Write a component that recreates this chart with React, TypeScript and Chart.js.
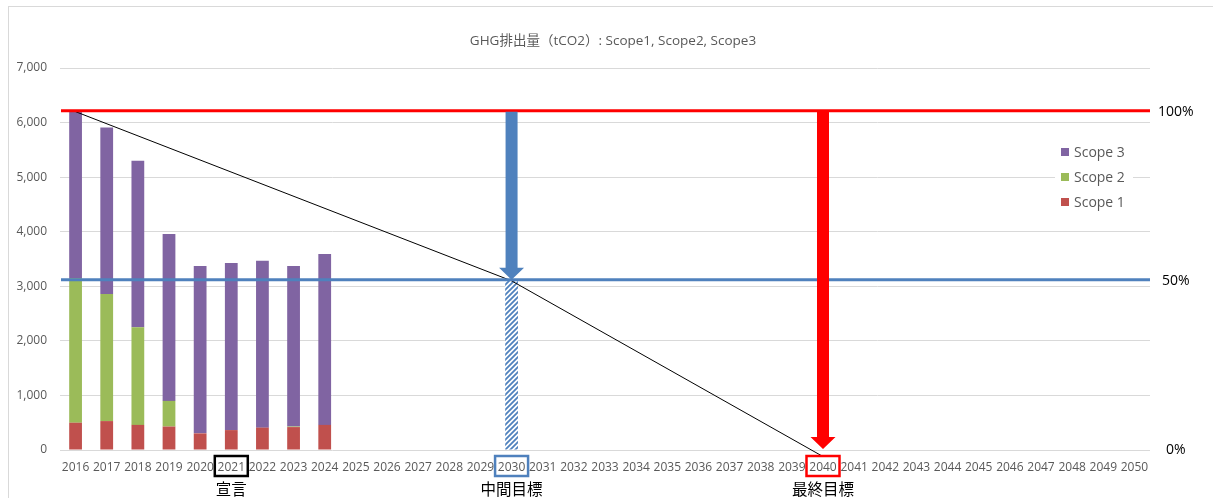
import { useEffect, useRef } from 'react';
import { Chart, registerables } from 'chart.js';

Chart.register(...registerables);

// ---- Data ----
const years: string[] = [
  '2016','2017','2018','2019','2020','2021','2022','2023','2024','2025',
  '2026','2027','2028','2029','2030','2031','2032','2033','2034','2035',
  '2036','2037','2038','2039','2040','2041','2042','2043','2044','2045',
  '2046','2047','2048','2049','2050',
];
const scope1: number[] = [500, 530, 460, 430, 305, 365, 410, 420, 460];
const scope2: number[] = [2650, 2330, 1790, 470, 0, 0, 0, 10, 0];
const scope3: number[] = [3050, 3050, 3050, 3060, 3065, 3060, 3060, 2940, 3130];

const yTicks: number[] = [0, 1000, 2000, 3000, 4000, 5000, 6000, 7000];
const pctTicks: number[] = [0, 50, 100];

// reduction path (base year -> interim target -> final target)
const pathYears: string[] = ['2016', '2030', '2040'];
const pathValues: number[] = [6200, 3100, -120];

// hatched interim target bar
const hatchYears: string[] = ['2030'];
const hatchValues: number[] = [3100];

// horizontal target levels (% of base year)
const targetPercents: number[] = [100, 50];

// arrows (percent of base year)
const arrowYears: string[] = ['2030', '2040'];
const arrowFrom: number[] = [100, 100];
const arrowTo: number[] = [50, 0];

// milestones
const milestoneYears: string[] = ['2021', '2030', '2040'];
const milestoneLabels: string[] = ['宣言', '中間目標', '最終目標'];

const titleText = 'GHG排出量（tCO2）: Scope1, Scope2, Scope3';
const legendLabels: string[] = ['Scope 3', 'Scope 2', 'Scope 1'];

// ---- Styles ----
const C_S1 = '#C0504D';
const C_S2 = '#9BBB59';
const C_S3 = '#8064A2';
const C_BLUE = '#4F81BD';
const C_RED = '#FF0000';
const targetColors = [C_RED, C_BLUE];
const arrowColors = [C_BLUE, C_RED];
const milestoneColors = ['#000000', C_BLUE, C_RED];
const legendColors = [C_S3, C_S2, C_S1];
const FONT = '"Open Sans", "Noto Sans CJK JP", sans-serif';
const JP_FONT = '"Noto Sans CJK JP", sans-serif';

const baseTotal = scope1[0] + scope2[0] + scope3[0];

function makeHatch(): CanvasPattern | string {
  const c = document.createElement('canvas');
  c.width = 5;
  c.height = 5;
  const g = c.getContext('2d');
  if (!g) return C_BLUE;
  g.fillStyle = '#ffffff';
  g.fillRect(0, 0, 5, 5);
  g.strokeStyle = C_BLUE;
  g.lineWidth = 1.8;
  g.beginPath();
  g.moveTo(-1, 6); g.lineTo(6, -1);
  g.moveTo(-1, 1); g.lineTo(1, -1);
  g.moveTo(4, 6); g.lineTo(6, 4);
  g.stroke();
  const p = g.createPattern(c, 'repeat');
  return p || C_BLUE;
}

const decoPlugin = {
  id: 'deco',
  beforeDraw(chart: any) {
    const ctx = chart.ctx;
    ctx.save();
    ctx.fillStyle = '#ffffff';
    ctx.fillRect(0, 0, chart.width, chart.height);
    ctx.strokeStyle = '#D9D9D9';
    ctx.lineWidth = 1;
    ctx.strokeRect(8.5, 6.5, chart.width + 10, chart.height + 10);
    ctx.fillStyle = '#595959';
    ctx.font = '13.5px ' + FONT;
    ctx.textAlign = 'center';
    ctx.textBaseline = 'middle';
    ctx.fillText(titleText, 613, 41);
    ctx.restore();
  },
  afterDatasetsDraw(chart: any) {
    const { ctx, chartArea } = chart;
    const xs = chart.scales.x;
    const y2 = chart.scales.y2;
    ctx.save();
    // target lines
    targetPercents.forEach((p, i) => {
      const py = y2.getPixelForValue(p) - 1;
      ctx.strokeStyle = targetColors[i];
      ctx.lineWidth = 3;
      ctx.beginPath();
      ctx.moveTo(chartArea.left + 1, py);
      ctx.lineTo(chartArea.right, py);
      ctx.stroke();
    });
    // arrows
    arrowYears.forEach((yr, i) => {
      const cx = xs.getPixelForValue(years.indexOf(yr));
      const top = y2.getPixelForValue(arrowFrom[i]);
      const tip = y2.getPixelForValue(arrowTo[i]) - 1;
      const sw = 6;
      const hw = 12.5;
      const hh = 12;
      ctx.fillStyle = arrowColors[i];
      ctx.beginPath();
      ctx.moveTo(cx - sw, top);
      ctx.lineTo(cx + sw, top);
      ctx.lineTo(cx + sw, tip - hh);
      ctx.lineTo(cx + hw, tip - hh);
      ctx.lineTo(cx, tip);
      ctx.lineTo(cx - hw, tip - hh);
      ctx.lineTo(cx - sw, tip - hh);
      ctx.closePath();
      ctx.fill();
    });
    // legend
    ctx.fillStyle = '#ffffff';
    ctx.fillRect(1055, 140, 78, 74);
    ctx.font = '14px ' + FONT;
    ctx.textAlign = 'left';
    ctx.textBaseline = 'middle';
    legendLabels.forEach((l, i) => {
      const ly = 152 + i * 25;
      ctx.fillStyle = legendColors[i];
      ctx.fillRect(1061, ly - 4, 8, 8);
      ctx.fillStyle = '#595959';
      ctx.fillText(l, 1074, ly + 1);
    });
    ctx.restore();
  },
  afterDraw(chart: any) {
    const { ctx, chartArea } = chart;
    const xs = chart.scales.x;
    ctx.save();
    milestoneYears.forEach((yr, i) => {
      const cx = xs.getPixelForValue(years.indexOf(yr));
      ctx.strokeStyle = milestoneColors[i];
      ctx.lineWidth = 2.5;
      ctx.strokeRect(cx - 16.5, chartArea.bottom + 6, 33, 20);
      ctx.fillStyle = '#000000';
      ctx.font = '15.5px ' + JP_FONT;
      ctx.textAlign = 'center';
      ctx.textBaseline = 'middle';
      ctx.fillText(milestoneLabels[i], cx, chartArea.bottom + 39);
    });
    ctx.restore();
  },
};

export default function App() {
  const ref = useRef<HTMLCanvasElement | null>(null);

  useEffect(() => {
    if (!ref.current) return;
    const hatch = makeHatch();
    const chart = new Chart(ref.current, {
      type: 'bar',
      data: {
        labels: years,
        datasets: [
          {
            type: 'line',
            label: 'path',
            data: pathYears.map((yr, i) => ({ x: yr, y: pathValues[i] })) as any,
            borderColor: '#000000',
            borderWidth: 1,
            pointRadius: 0,
            fill: false,
            clip: false,
            order: 0,
          } as any,
          { label: 'Scope 1', data: scope1, backgroundColor: C_S1, order: 1 },
          { label: 'Scope 2', data: scope2, backgroundColor: C_S2, order: 1 },
          { label: 'Scope 3', data: scope3, backgroundColor: C_S3, order: 1 },
          {
            label: 'target',
            data: hatchYears.map((yr, i) => ({ x: yr, y: hatchValues[i] })) as any,
            backgroundColor: hatch as any,
            order: 1,
          },
        ],
      },
      options: {
        animation: false,
        responsive: false,
        maintainAspectRatio: false,
        layout: { padding: { top: 68, left: 0, right: 0, bottom: 0 } },
        datasets: { bar: { categoryPercentage: 1, barPercentage: 0.41 } },
        plugins: {
          legend: { display: false },
          title: { display: false },
          tooltip: { enabled: false },
        },
        scales: {
          x: {
            stacked: true,
            grid: { display: false, drawTicks: false },
            border: { display: false },
            ticks: {
              autoSkip: false,
              maxRotation: 0,
              minRotation: 0,
              padding: 10,
              color: '#595959',
              font: { family: FONT, size: 12 },
            },
            afterFit: (s: any) => { s.height = 48; },
          },
          y: {
            stacked: true,
            min: 0,
            max: 7000,
            grid: { color: '#D9D9D9', lineWidth: 1, drawTicks: false },
            border: { display: false },
            afterBuildTicks: (s: any) => { s.ticks = yTicks.map((v) => ({ value: v })); },
            ticks: {
              padding: 13,
              color: '#595959',
              font: { family: FONT, size: 12 },
              callback: (v: any) => Number(v).toLocaleString('en-US'),
            },
            afterFit: (s: any) => { s.width = 60; },
          },
          y2: {
            position: 'right',
            min: 0,
            max: (7000 / baseTotal) * 100,
            grid: { display: false, drawTicks: false },
            border: { display: false },
            afterBuildTicks: (s: any) => { s.ticks = pctTicks.map((v) => ({ value: v })); },
            ticks: {
              padding: 8,
              crossAlign: 'center',
              color: '#000000',
              font: { family: FONT, size: 14 },
              callback: (v: any) => v + '%',
            },
            afterFit: (s: any) => { s.width = 63; },
          },
        },
      } as any,
      plugins: [decoPlugin],
    });
    return () => chart.destroy();
  }, []);

  return (
    <div style={{ position: 'fixed', left: 0, top: 0, width: 1213, height: 498, background: '#fff' }}>
      <canvas ref={ref} width={1213} height={498} style={{ width: 1213, height: 498, display: 'block' }} />
    </div>
  );
}
